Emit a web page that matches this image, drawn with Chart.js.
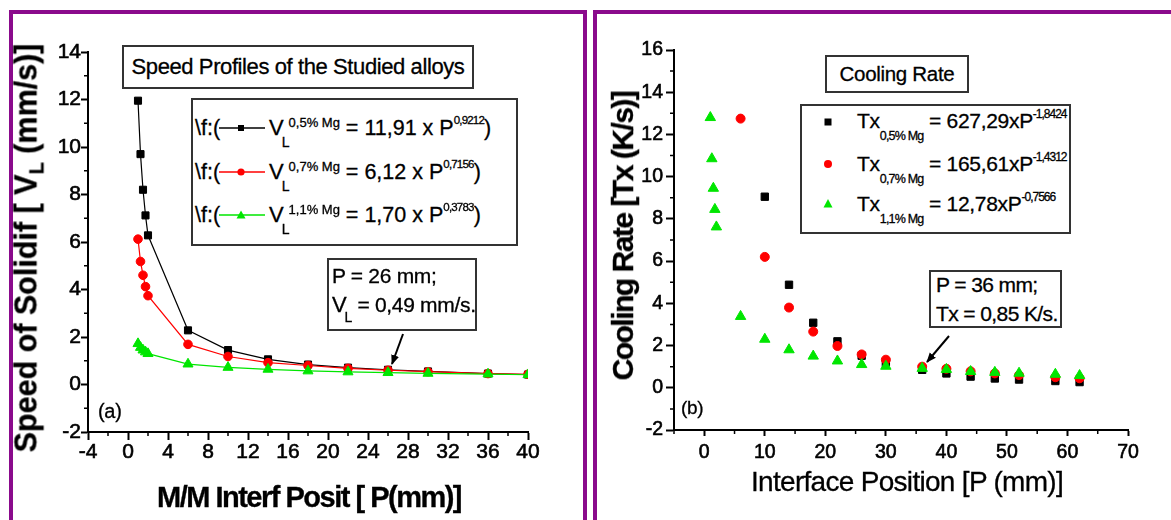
<!DOCTYPE html>
<html>
<head>
<meta charset="utf-8">
<script src="https://cdn.jsdelivr.net/npm/chart.js@4.4.1/dist/chart.umd.min.js"></script>
<style>
html,body{margin:0;padding:0;background:#fff;}
#wrap{position:relative;width:1171px;height:520px;overflow:hidden;background:#fff;font-family:'Liberation Sans',Arial,Helvetica,sans-serif;color:#000;}
.frame{position:absolute;box-sizing:border-box;border:4px solid #8a0a8c;border-bottom:none;}
.cv{position:absolute;top:0;}
.box{position:absolute;box-sizing:border-box;border:2px solid #333;background:#fff;-webkit-text-stroke:0.3px #000;}
.ctr{display:flex;align-items:center;justify-content:center;white-space:nowrap;}
.t{position:absolute;white-space:nowrap;font-size:21px;line-height:24px;letter-spacing:-0.3px;-webkit-text-stroke:0.3px #000;}
.lg{font-size:21.5px;letter-spacing:0;}
.V{font-size:22px;}
.sb{position:relative;top:12px;font-size:14px;margin-left:-2px;}
.sp{position:relative;top:-8px;font-size:13px;margin-left:-1px;letter-spacing:0;}
.sp2{position:relative;top:-11px;font-size:11.5px;letter-spacing:-0.8px;}
.sb2{position:relative;top:12px;font-size:12.5px;letter-spacing:-0.8px;}
.sp3{position:relative;top:-10px;font-size:12px;letter-spacing:-1px;}
.ttl{position:absolute;white-space:nowrap;line-height:1.2;-webkit-text-stroke:0.3px #000;}
svg.ov{position:absolute;left:0;top:0;pointer-events:none;}
</style>
</head>
<body>
<div id="wrap">
  <div class="frame" style="left:9px;top:10px;width:578px;height:530px;"></div>
  <div class="frame" style="left:593px;top:10px;width:600px;height:530px;"></div>

  <canvas id="chartA" class="cv" style="left:0;" width="590" height="520"></canvas>
  <canvas id="chartB" class="cv" style="left:590px;" width="581" height="520"></canvas>

  <!-- axis titles -->
  <div class="ttl" style="left:28px;top:248px;font-size:30.5px;font-weight:bold;transform:translate(-50%,-50%) rotate(-90deg);">Speed of Solidif [ V<sub style="font-size:20px;">L</sub> (mm/s)]</div>
  <div class="ttl" style="left:309px;top:497px;font-size:29px;font-weight:bold;letter-spacing:-1.5px;transform:translate(-50%,-50%);">M/M Interf Posit [ P(mm)]</div>
  <div class="ttl" style="left:623px;top:236px;font-size:30px;font-weight:bold;letter-spacing:-1.5px;transform:translate(-50%,-50%) rotate(-90deg);">Cooling Rate [Tx (K/s)]</div>
  <div class="ttl" style="left:907px;top:482px;font-size:28px;letter-spacing:-0.7px;transform:translate(-50%,-50%);">Interface Position [P (mm)]</div>

  <!-- Panel (a) texts -->
  <div class="box ctr" style="left:122px;top:45px;width:352px;height:44px;font-size:22px;letter-spacing:-0.4px;">Speed Profiles of the Studied alloys</div>
  <div class="box" style="left:191px;top:98px;width:327px;height:148px;"></div>
  <div class="t lg" style="left:195px;top:116px;">\f:(<span style="display:inline-block;width:49px;"></span><span class="V">V</span><span class="sb">L</span><span class="sp">0,5% Mg</span> = 11,91 x P<span class="sp2">0,9212</span>)</div>
  <div class="t lg" style="left:195px;top:160px;">\f:(<span style="display:inline-block;width:49px;"></span><span class="V">V</span><span class="sb">L</span><span class="sp">0,7% Mg</span> = 6,12 x P<span class="sp2">0,7156</span>)</div>
  <div class="t lg" style="left:195px;top:203px;">\f:(<span style="display:inline-block;width:49px;"></span><span class="V">V</span><span class="sb">L</span><span class="sp">1,1% Mg</span> = 1,70 x P<span class="sp2">0,3783</span>)</div>
  <div class="box" style="left:327px;top:258px;width:150px;height:73px;"></div>
  <div class="t" style="left:332px;top:264px;">P = 26 mm;</div>
  <div class="t" style="left:332px;top:293px;"><span class="V">V</span><span class="sb" style="top:10px;">L</span> = 0,49 mm/s.</div>
  <div class="t" style="left:98px;top:399px;font-size:20px;">(a)</div>

  <!-- Panel (b) texts -->
  <div class="box ctr" style="left:825px;top:55px;width:144px;height:38px;font-size:20.5px;letter-spacing:-0.3px;">Cooling Rate</div>
  <div class="box" style="left:800px;top:104px;width:271px;height:130px;"></div>
  <div class="t" style="left:857px;top:109px;">Tx<span class="sb2">0,5% Mg</span> = 627,29xP<span class="sp3">-1,8424</span></div>
  <div class="t" style="left:857px;top:152px;">Tx<span class="sb2">0,7% Mg</span> = 165,61xP<span class="sp3">-1,4312</span></div>
  <div class="t" style="left:857px;top:192px;">Tx<span class="sb2">1,1% Mg</span> = 12,78xP<span class="sp3">-0,7566</span></div>
  <div class="box" style="left:929px;top:270px;width:133px;height:58px;"></div>
  <div class="t" style="left:936px;top:273px;letter-spacing:-0.6px;">P = 36 mm;</div>
  <div class="t" style="left:936px;top:302px;letter-spacing:-0.6px;">Tx = 0,85 K/s.</div>
  <div class="t" style="left:681px;top:396px;font-size:19px;">(b)</div>

  <!-- legend samples and arrows -->
  <svg class="ov" width="1171" height="520" viewBox="0 0 1171 520">
    <defs>
      <marker id="ah" markerWidth="10" markerHeight="10" refX="9" refY="5" orient="auto" markerUnits="userSpaceOnUse">
        <path d="M0,1 L10,5 L0,9 Z" fill="#000"/>
      </marker>
    </defs>
    <line x1="219" y1="128" x2="265" y2="128" stroke="#000" stroke-width="1.3"/>
    <rect x="238" y="125" width="6" height="6" fill="#000"/>
    <line x1="219" y1="172" x2="265" y2="172" stroke="#ff0000" stroke-width="1.3"/>
    <circle cx="241" cy="172" r="3.6" fill="#ff0000"/>
    <line x1="219" y1="215" x2="265" y2="215" stroke="#00e600" stroke-width="1.3"/>
    <path d="M241,210.5 L245.5,218.5 L236.5,218.5 Z" fill="#00e600"/>

    <rect x="824.5" y="118.5" width="7" height="7" fill="#000"/>
    <circle cx="828" cy="164" r="4" fill="#ff0000"/>
    <path d="M828,199 L832.5,207.5 L823.5,207.5 Z" fill="#00e600"/>

    <line x1="403" y1="334" x2="392" y2="364" stroke="#000" stroke-width="2" marker-end="url(#ah)"/>
    <line x1="949" y1="336" x2="927" y2="362" stroke="#000" stroke-width="2" marker-end="url(#ah)"/>
  </svg>
</div>

<script>
const FONT = "'Liberation Sans', Arial, Helvetica, sans-serif";

// ---------- Panel (a): speed of solidification ----------
const posA  = [1, 1.25, 1.5, 1.75, 2, 6, 10, 14, 18, 22, 26, 30, 36, 40];
const vl05  = [11.95, 9.7, 8.2, 7.12, 6.28, 2.28, 1.45, 1.06, 0.84, 0.71, 0.62, 0.55, 0.46, 0.42];
const vl07  = [6.12, 5.18, 4.6, 4.12, 3.74, 1.69, 1.18, 0.92, 0.80, 0.68, 0.60, 0.54, 0.46, 0.43];
const vl11  = [1.72, 1.56, 1.45, 1.37, 1.30, 0.86, 0.72, 0.64, 0.57, 0.53, 0.50, 0.47, 0.44, 0.41];
const xTicksA = [-4, 0, 4, 8, 12, 16, 20, 24, 28, 32, 36, 40];
const xMinorA = [-2, 2, 6, 10, 14, 18, 22, 26, 30, 34, 38];
const yTicksA = [-2, 0, 2, 4, 6, 8, 10, 12, 14];
const yMinorA = [-1, 1, 3, 5, 7, 9, 11, 13];

// ---------- Panel (b): cooling rate ----------
const posB  = [1, 1.25, 1.5, 1.75, 2, 6, 10, 14, 18, 22, 26, 30, 36, 40, 44, 48, 52, 58, 62];
const tx05  = [null, null, null, null, null, null, 9.05, 4.88, 3.08, 2.2, 1.52, 1.17, 0.85, 0.68, 0.53, 0.44, 0.39, 0.32, 0.27];
const tx07  = [null, null, null, null, null, 12.75, 6.2, 3.8, 2.66, 1.98, 1.58, 1.33, 1.0, 0.9, 0.78, 0.68, 0.6, 0.5, 0.45];
const tx11  = [12.8, 10.85, 9.45, 8.45, 7.62, 3.38, 2.3, 1.8, 1.5, 1.27, 1.1, 1.02, 0.92, 0.87, 0.77, 0.73, 0.69, 0.64, 0.58];
const xTicksB = [0, 10, 20, 30, 40, 50, 60, 70];
const xMinorB = [-5, 5, 15, 25, 35, 45, 55, 65];
const yTicksB = [-2, 0, 2, 4, 6, 8, 10, 12, 14, 16];
const yMinorB = [-1, 1, 3, 5, 7, 9, 11, 13, 15];

const BLACK = '#000000', RED = '#ff0000', GREEN = '#00e600';

function pts(xs, ys) {
  return xs.map((x, i) => ({ x: x, y: ys[i] })).filter(p => p.y !== null);
}

const minorTicks = {
  id: 'minorTicks',
  afterDraw(chart, args, opts) {
    const { ctx, chartArea: a, scales: { x, y } } = chart;
    ctx.save();
    ctx.strokeStyle = '#000';
    ctx.lineWidth = 1.5;
    ctx.beginPath();
    opts.x.forEach(v => { const p = x.getPixelForValue(v); ctx.moveTo(p, a.bottom); ctx.lineTo(p, a.bottom + opts.len); });
    opts.y.forEach(v => { const p = y.getPixelForValue(v); ctx.moveTo(a.left, p); ctx.lineTo(a.left - opts.len, p); });
    ctx.stroke();
    ctx.restore();
  }
};

function axis(o) {
  return {
    type: 'linear', min: o.min, max: o.max,
    afterBuildTicks: s => { s.ticks = o.ticks.map(v => ({ value: v })); },
    afterFit: s => { if (o.w != null) s.width = o.w; if (o.h != null) s.height = o.h; },
    grid: { drawOnChartArea: false, drawTicks: true, tickLength: o.tl, tickWidth: 2, tickColor: '#000', color: '#000' },
    border: { display: true, color: '#000', width: 2 },
    ticks: { color: '#000', font: { family: FONT, size: o.fs }, padding: o.pad, maxRotation: 0, autoSkip: false,
             textStrokeColor: '#000', textStrokeWidth: 0.6, callback: v => String(v) },
    title: { display: false }
  };
}

function ds(label, data, color, style, radius, order, line) {
  return {
    label: label, data: data, order: order,
    showLine: line, borderColor: color, borderWidth: 1.2,
    pointStyle: style, pointRadius: radius, pointHoverRadius: radius,
    pointBackgroundColor: color, pointBorderColor: color, pointBorderWidth: 1
  };
}

new Chart(document.getElementById('chartA'), {
  type: 'scatter',
  data: {
    datasets: [
      ds('0,5% Mg', pts(posA, vl05), BLACK, 'rect', 5, 2, true),
      ds('0,7% Mg', pts(posA, vl07), RED, 'circle', 4.3, 1, true),
      ds('1,1% Mg', pts(posA, vl11), GREEN, 'triangle', 5.8, 0, true)
    ]
  },
  options: {
    responsive: false, animation: false, devicePixelRatio: 1,
    layout: { padding: { left: 0, top: 52, right: 62, bottom: 0 } },
    plugins: { legend: { display: false }, tooltip: { enabled: false }, minorTicks: { x: xMinorA, y: yMinorA, len: 4 } },
    scales: {
      x: axis({ min: -4, max: 40, ticks: xTicksA, h: 88, tl: 8, fs: 21, pad: 0 }),
      y: axis({ min: -2, max: 14, ticks: yTicksA, w: 88, tl: 7, fs: 21, pad: 0 })
    }
  },
  plugins: [minorTicks]
});

new Chart(document.getElementById('chartB'), {
  type: 'scatter',
  data: {
    datasets: [
      ds('0,5% Mg', pts(posB, tx05), BLACK, 'rect', 5.2, 2, false),
      ds('0,7% Mg', pts(posB, tx07), RED, 'circle', 4.5, 1, false),
      ds('1,1% Mg', pts(posB, tx11), GREEN, 'triangle', 6, 0, false)
    ]
  },
  options: {
    responsive: false, animation: false, devicePixelRatio: 1,
    layout: { padding: { left: 0, top: 50, right: 43, bottom: 0 } },
    plugins: { legend: { display: false }, tooltip: { enabled: false }, minorTicks: { x: xMinorB, y: yMinorB, len: 4 } },
    scales: {
      x: axis({ min: -5, max: 70, ticks: xTicksB, h: 90, tl: 6, fs: 19.5, pad: 5 }),
      y: axis({ min: -2, max: 16, ticks: yTicksB, w: 84, tl: 8, fs: 19.5, pad: 3 })
    }
  },
  plugins: [minorTicks]
});
</script>
</body>
</html>
